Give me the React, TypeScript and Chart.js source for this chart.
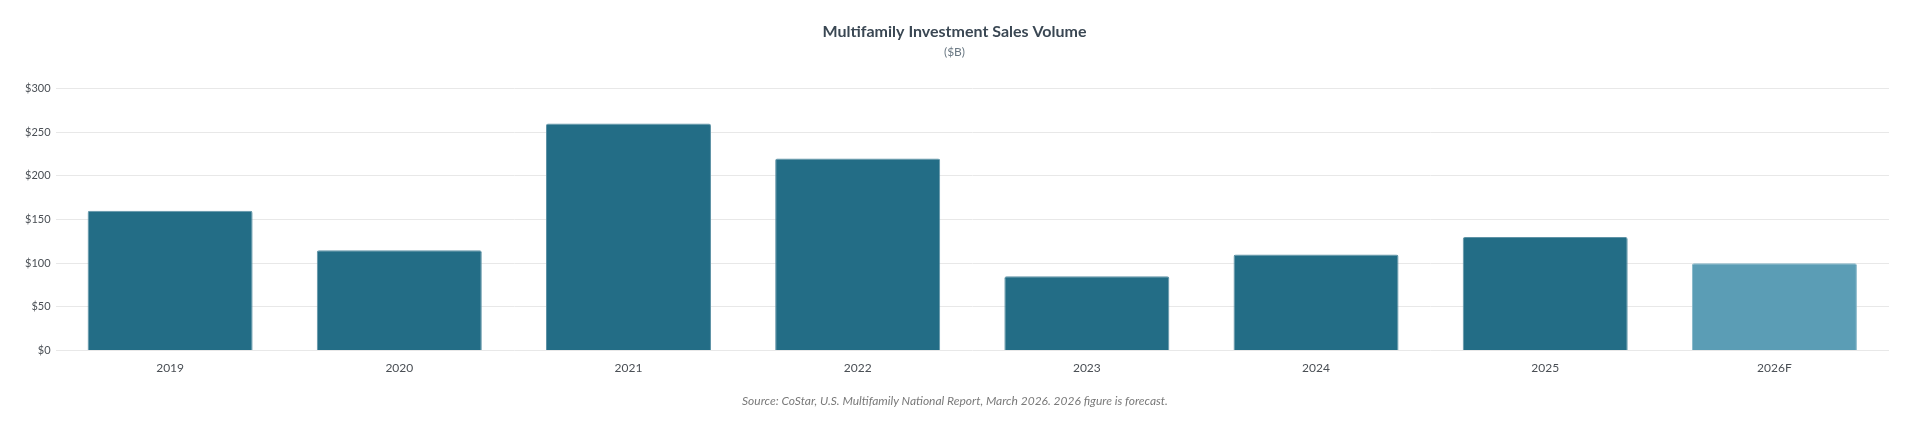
import { Chart, registerables } from "chart.js";
import React, { useEffect, useRef } from "react";

Chart.register(...registerables);

const years = ["2019", "2020", "2021", "2022", "2023", "2024", "2025", "2026F"];
const volumes = [160, 115, 260, 220, 85, 110, 130, 100];
const barColors = ["#236d86", "#236d86", "#236d86", "#236d86", "#236d86", "#236d86", "#236d86", "#5b9db5"];
const edgeColors = ["#5f93a6", "#5f93a6", "#5f93a6", "#5f93a6", "#5f93a6", "#5f93a6", "#5f93a6", "#86b7c8"];

const FONT = "Lato, 'Open Sans', sans-serif";

const SalesChart = () => {
  const canvasRef = useRef<HTMLCanvasElement | null>(null);

  useEffect(() => {
    if (!canvasRef.current) return;
    const chart = new Chart(canvasRef.current, {
      type: "bar",
      data: {
        labels: years,
        datasets: [
          {
            data: volumes,
            backgroundColor: barColors,
            borderColor: edgeColors,
            borderWidth: 1,
            borderRadius: 2,
            borderSkipped: "bottom",
          },
        ],
      },
      options: {
        animation: false,
        responsive: true,
        maintainAspectRatio: false,
        layout: { padding: { left: 12, right: 13, top: 0, bottom: 33 } },
        plugins: {
          legend: { display: false },
          tooltip: { enabled: false },
          title: {
            display: true,
            text: "Multifamily Investment Sales Volume",
            color: "#3a4753",
            font: { family: FONT, size: 16, weight: "bold" },
            padding: { top: 14, bottom: 2 },
          },
          subtitle: {
            display: true,
            text: "($B)",
            color: "#6a7883",
            font: { family: FONT, size: 12 },
            padding: { top: 2, bottom: 29 },
          },
        },
        scales: {
          x: {
            grid: { display: false, drawTicks: false },
            border: { display: false },
            ticks: {
              color: "#4a4f55",
              font: { family: FONT, size: 12 },
              padding: 10,
            },
          },
          y: {
            min: 0,
            max: 300,
            grid: { color: "#e8e8e8", drawTicks: false },
            border: { display: false },
            ticks: {
              stepSize: 50,
              padding: 5,
              color: "#4a4f55",
              font: { family: FONT, size: 11 },
              callback: (v) => "$" + v,
            },
          },
        },
      },
    });
    return () => chart.destroy();
  }, []);

  return <canvas ref={canvasRef}></canvas>;
};

export default function App() {
  return (
    <div style={{ position: "relative", width: "100%", height: 410 }}>
      <SalesChart />
      <div
        style={{
          position: "absolute",
          left: 0,
          right: 0,
          top: 385,
          textAlign: "center",
          fontFamily: FONT,
          fontStyle: "italic",
          fontSize: 12,
          lineHeight: "16px",
          color: "#7a7a7a",
        }}
      >
        Source: CoStar, U.S. Multifamily National Report, March 2026. 2026 figure is forecast.
      </div>
    </div>
  );
}
